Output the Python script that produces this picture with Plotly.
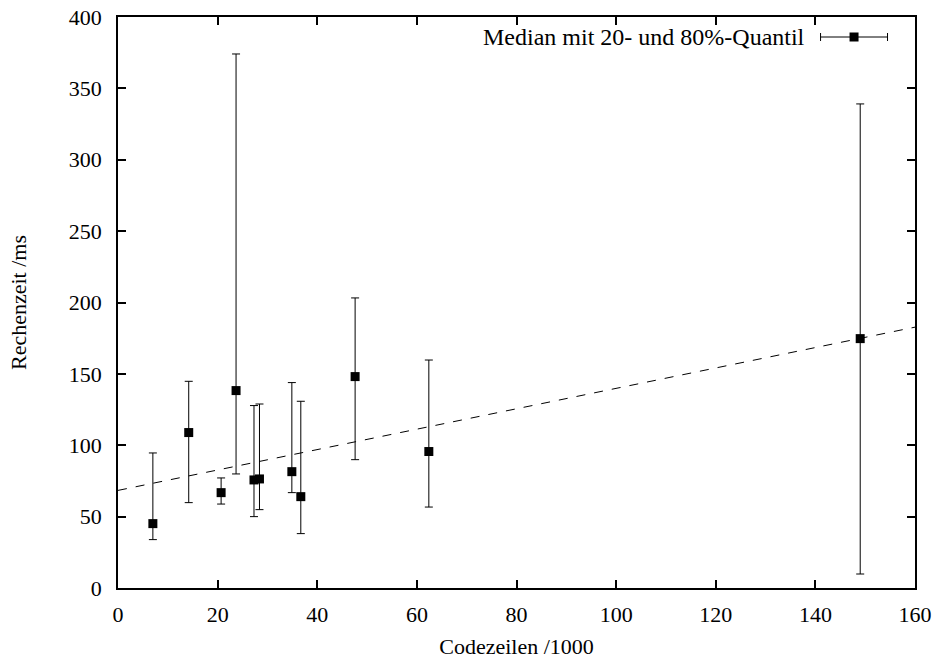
import numpy as np
import plotly.graph_objects as go

# Data
codezeilen_k = [7.0, 14.2, 20.7, 23.7, 27.3, 28.4, 34.9, 36.7, 47.6, 62.4, 149.0]
median_ms    = [45.1, 108.9, 66.8, 138.3, 75.7, 76.4, 81.5, 64.0, 148.1, 95.6, 174.7]
q80_ms       = [94.6, 144.8, 77.1, 374.1, 127.8, 128.9, 143.9, 130.8, 203.2, 159.7, 339.1]
q20_ms       = [33.9, 59.8, 58.8, 79.9, 50.0, 54.9, 66.8, 38.1, 89.9, 56.7, 9.8]

x_ticks = [0, 20, 40, 60, 80, 100, 120, 140, 160]
y_ticks = [0, 50, 100, 150, 200, 250, 300, 350, 400]
x_range = [0, 160]
y_range = [0, 400]

legend_label = "Median mit 20- und 80%-Quantil"
x_title = "Codezeilen /1000"
y_title = "Rechenzeit /ms"

FONT = "Liberation Serif, Times New Roman, serif"
FS = 22

x = np.array(codezeilen_k)
m = np.array(median_ms)
up = np.array(q80_ms) - m
lo = m - np.array(q20_ms)

# least squares fit of medians
slope, intercept = np.polyfit(x, m, 1)
fit_x = np.array(x_range, dtype=float)
fit_y = intercept + slope * fit_x

fig = go.Figure()
fig.add_trace(go.Scatter(
    x=fit_x, y=fit_y, mode="lines",
    line=dict(color="black", width=1, dash="dash"),
    showlegend=False, hoverinfo="skip",
))
fig.add_trace(go.Scatter(
    x=x, y=m, mode="markers",
    marker=dict(symbol="square", size=9, color="black"),
    error_y=dict(type="data", symmetric=False, array=up, arrayminus=lo,
                 color="black", thickness=1, width=4),
    name=legend_label, showlegend=False,
))

# gnuplot-style legend: text on the left, sample on the right (paper coords)
W, H = 936, 660
L, R, T, B = 118, 20.5, 17, 72
pw, ph = W - L - R, H - T - B
def px(xp):
    return (xp - L) / pw
def py(yp):
    return (H - B - yp) / ph

ly = 37
fig.add_annotation(x=px(807), y=py(ly), xref="paper", yref="paper",
                   text=legend_label, showarrow=False, xanchor="right", yanchor="middle",
                   font=dict(family=FONT, size=24, color="black"))
fig.add_shape(type="line", xref="paper", yref="paper",
              x0=px(821), x1=px(888), y0=py(ly), y1=py(ly),
              line=dict(color="black", width=1))
for xc in (821, 888):
    fig.add_shape(type="line", xref="paper", yref="paper",
                  x0=px(xc), x1=px(xc), y0=py(ly - 4), y1=py(ly + 4),
                  line=dict(color="black", width=1))
fig.add_shape(type="rect", xref="paper", yref="paper",
              x0=px(850), x1=px(859), y0=py(ly - 4.5), y1=py(ly + 4.5),
              line=dict(width=0), fillcolor="black")

axis_common = dict(
    showgrid=False, zeroline=False, showline=True, linecolor="black", linewidth=1.5,
    mirror="ticks", ticks="inside", ticklen=8, tickwidth=1.5, tickcolor="black",
    tickfont=dict(family=FONT, size=FS, color="black"), automargin=False,
)
fig.update_xaxes(range=x_range, tickvals=x_ticks, ticktext=[str(v) for v in x_ticks],
                 title=dict(text=x_title, font=dict(family=FONT, size=FS, color="black"), standoff=12),
                 ticklabelstandoff=6, **axis_common)
fig.update_yaxes(range=y_range, tickvals=y_ticks, ticktext=[str(v) for v in y_ticks],
                 title=dict(text=y_title, font=dict(family=FONT, size=FS, color="black"), standoff=36),
                 ticklabelstandoff=10, **axis_common)

fig.update_layout(
    width=W, height=H,
    margin=dict(l=L, r=R, t=T, b=B),
    paper_bgcolor="white", plot_bgcolor="white",
    showlegend=False,
)
fig.write_html("out.html", config={"displayModeBar": False},
               post_script="document.body.style.margin='0';document.body.style.overflow='hidden';")
